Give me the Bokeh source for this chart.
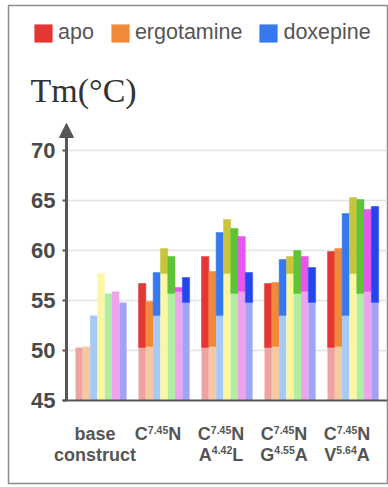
from bokeh.plotting import figure
from bokeh.models import Range1d, FixedTicker, Legend, LegendItem, Arrow, NormalHead
from bokeh.core.properties import value
from bokeh.embed import file_html
from bokeh.resources import INLINE

# ---------------- data ----------------
ligands = ["apo", "ergotamine", "doxepine"]
constructs = ["base construct", "C7.45N", "C7.45N A4.42L", "C7.45N G4.55A", "C7.45N V5.64A"]
label_line1 = [("base", "", ""), ("C", "7.45", "N"), ("C", "7.45", "N"), ("C", "7.45", "N"), ("C", "7.45", "N")]
label_line2 = [("construct", "", ""), ("", "", ""), ("A", "4.42", "L"), ("G", "4.55", "A"), ("V", "5.64", "A")]

base_tm = [50.3, 50.4, 53.5, 57.7, 55.7, 55.9, 54.8]
c745n_tm = [56.7, 54.9, 57.8, 60.2, 59.4, 56.3, 57.3]
a442l_tm = [59.4, 57.9, 61.8, 63.1, 62.2, 61.4, 57.8]
g455a_tm = [56.7, 56.8, 59.1, 59.4, 60.0, 59.4, 58.3]
v564a_tm = [59.9, 60.2, 63.7, 65.3, 65.1, 64.1, 64.4]
mutant_tm = [c745n_tm, a442l_tm, g455a_tm, v564a_tm]

y_ticks = [45, 50, 55, 60, 65, 70]

# ---------------- style ----------------
pale_colors = ["#EFA3A0", "#F7C9A2", "#A7C9F5", "#FAF6A2", "#B0EEA2", "#EFA3EE", "#A3A3F5"]
dark_colors = ["#E53535", "#F08A3A", "#3679EE", "#C9C43E", "#5EC437", "#E657EE", "#2446EE"]
TEXT = "#555555"
AXIS = "#555555"
BW = 0.1159          # bar width in group units
AXIS_X = -0.143      # position of the y axis (group units)
X0, X1 = -1.0635, 4.952
Y0, Y1 = 36.7, 84.5

p = figure(width=388, height=487, output_backend="svg", toolbar_location=None,
           x_range=Range1d(X0, X1), y_range=Range1d(Y0, Y1),
           x_axis_type=None,
           min_border_left=8, min_border_right=1, min_border_top=5, min_border_bottom=4)
p.grid.visible = False
p.outline_line_color = "#8c8c8c"
p.outline_line_width = 1.5
p.background_fill_color = "white"
p.border_fill_color = "white"

# y axis (real axis at fixed location)
ya = p.yaxis[0]
ya.fixed_location = AXIS_X
ya.ticker = FixedTicker(ticks=y_ticks)
ya.axis_line_color = None
ya.major_tick_in = 0
ya.major_tick_out = 4
ya.major_tick_line_color = AXIS
ya.major_tick_line_width = 2
ya.minor_tick_line_color = None
ya.major_label_standoff = 7
ya.major_label_text_font = "Liberation Sans"
ya.major_label_text_font_style = "bold"
ya.major_label_text_font_size = "22px"
ya.major_label_text_color = "#4a4a4a"

# gridlines
grid_vals = [t for t in y_ticks if t > y_ticks[0]]
p.segment(x0=[AXIS_X] * len(grid_vals), x1=[X1] * len(grid_vals), y0=grid_vals, y1=grid_vals,
          line_color="#e4e4e4", line_width=1.5)

# bars
dark_renderers = []
for b in range(7):
    xs = [g + (b + 0.5) * BW for g in range(len(constructs))]
    p.vbar(x=xs, width=BW, bottom=y_ticks[0], top=[base_tm[b]] * len(constructs),
           fill_color=pale_colors[b], line_color=None)
    xm = [g + 1 + (b + 0.5) * BW for g in range(len(mutant_tm))]
    r = p.vbar(x=xm, width=BW, bottom=[base_tm[b]] * len(mutant_tm),
               top=[m[b] for m in mutant_tm],
               fill_color=dark_colors[b], line_color=dark_colors[b], line_width=0.5)
    dark_renderers.append(r)

# baseline (x axis line)
p.segment(x0=[-0.206], x1=[X1], y0=[y_ticks[0]], y1=[y_ticks[0]], line_color=AXIS, line_width=2)

# y axis arrow
p.add_layout(Arrow(end=NormalHead(size=14, fill_color=AXIS, line_color=AXIS, line_width=1),
                   x_start=AXIS_X, y_start=y_ticks[0], x_end=AXIS_X, y_end=72.7,
                   line_color=AXIS, line_width=3))

# axis title
p.text(x=[-0.714], y=[76.05], text=["Tm(°C)"], text_font=value("Liberation Serif"),
       text_font_size="34px", text_color="#333333", text_align="left", text_baseline="alphabetic")

# category labels with superscripts
CW = {'A': .722, 'C': .722, 'G': .778, 'L': .611, 'N': .722, 'V': .667, '.': .278}
for d in "0123456789":
    CW[d] = .556
MAIN, SUP = 18.0, 10.5


def w(s, size):
    return sum(CW.get(ch, .6) for ch in s) * size


LINE_Y = [41.65, 39.6]
SUP_RAISE = 0.45
LABEL_SHIFT = 0.31
mx, my, mt, mo, ma = [], [], [], [], []
sx, sy, st, so = [], [], [], []
for g in range(len(constructs)):
    cx = g + LABEL_SHIFT
    for li, parts in enumerate([label_line1[g], label_line2[g]]):
        pre, sup, post = parts
        if not pre:
            continue
        if not sup:
            mx.append(cx); my.append(LINE_Y[li]); mt.append(pre); mo.append(0); ma.append("center")
            continue
        tot = w(pre, MAIN) + w(sup, SUP) + w(post, MAIN)
        left = -tot / 2
        mx.append(cx); my.append(LINE_Y[li]); mt.append(pre); mo.append(left); ma.append("left")
        sx.append(cx); sy.append(LINE_Y[li] + SUP_RAISE); st.append(sup); so.append(left + w(pre, MAIN))
        mx.append(cx); my.append(LINE_Y[li]); mt.append(post)
        mo.append(left + w(pre, MAIN) + w(sup, SUP)); ma.append("left")

p.text(x=mx, y=my, text=mt, x_offset=mo, text_align=ma, text_baseline="alphabetic",
       text_font=value("Liberation Sans"), text_font_style="bold", text_font_size="18px",
       text_color=TEXT)
p.text(x=sx, y=sy, text=st, x_offset=so, text_align="left", text_baseline="alphabetic",
       text_font=value("Liberation Sans"), text_font_style="bold", text_font_size="10.5px",
       text_color=TEXT)

# legend
legend = Legend(items=[LegendItem(label=ligands[i], renderers=[dark_renderers[i]]) for i in range(3)],
                orientation="horizontal", location=(24, 438),
                glyph_width=22, glyph_height=22, label_standoff=4, spacing=15,
                padding=0, margin=0, border_line_color=None, background_fill_alpha=0,
                label_text_font="Liberation Sans", label_text_font_size="21.5px",
                label_text_color=TEXT)
p.add_layout(legend)

open("out.html", "w").write(file_html(p, INLINE))
